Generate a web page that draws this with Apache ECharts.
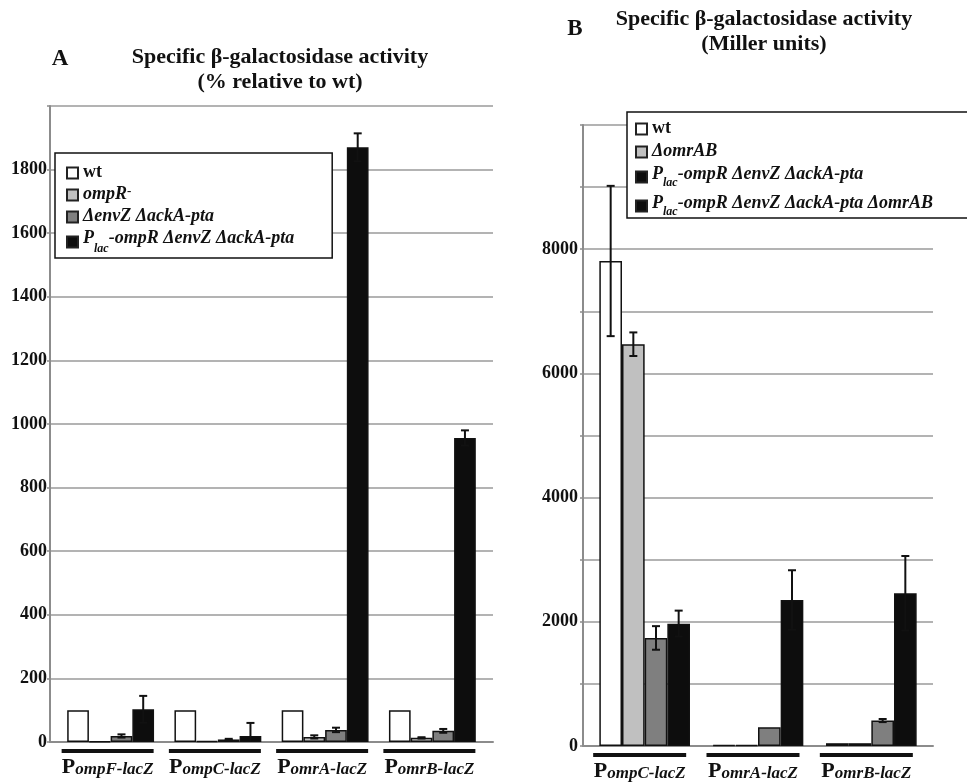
<!DOCTYPE html>
<html><head><meta charset="utf-8">
<script src="https://cdn.jsdelivr.net/npm/echarts@6/dist/echarts.min.js"></script>
<style>html,body{margin:0;padding:0;background:#fff}#c{width:967px;height:782px}</style>
</head><body><div id="c"></div>
<script>
// ---------- data ----------
const catsA = ['PompF-lacZ', 'PompC-lacZ', 'PomrA-lacZ', 'PomrB-lacZ'];
const namesA = ['wt', 'ompR-', 'ΔenvZ ΔackA-pta', 'Plac-ompR ΔenvZ ΔackA-pta'];
const wtA = [100, 100, 100, 100];
const wtAErr = [0, 0, 0, 0];
const ompRA = [2, 3, 16, 13];
const ompRAErr = [0, 0, 5, 2];
const envZA = [19, 8, 38, 35];
const envZAErr = [5, 2, 7, 6];
const placA = [103, 19, 1870, 956];
const placAErr = [42, 41, 44, 24];
const ticksA = [0, 200, 400, 600, 800, 1000, 1200, 1400, 1600, 1800];

const catsB = ['PompC-lacZ', 'PomrA-lacZ', 'PomrB-lacZ'];
const namesB = ['wt', 'ΔomrAB', 'Plac-ompR ΔenvZ ΔackA-pta', 'Plac-ompR ΔenvZ ΔackA-pta ΔomrAB'];
const wtB = [7810, 15, 45];
const wtBErr = [1210, 0, 0];
const omrABB = [6470, 15, 45];
const omrABBErr = [190, 0, 0];
const placEnvB = [1740, 300, 410];
const placEnvBErr = [190, 0, 25];
const placOmrB = [1970, 2350, 2460];
const placOmrBErr = [210, 480, 600];
const ticksB = [0, 2000, 4000, 6000, 8000];

// ---------- styling ----------
const FONT = '"Liberation Serif", "Times New Roman", serif';
const COLORS = ['#ffffff', '#c0c0c0', '#7f7f7f', '#0d0d0d'];
const GRID_COLOR = '#9a9a9a';
const AXIS_COLOR = '#8c8c8c';
const INK = '#111';

function legendRich(holder) {
  return {
    b: {fontFamily: FONT, fontWeight: 'bold', fontSize: 18, lineHeight: 20, verticalAlign: 'top', color: INK},
    i: {fontFamily: FONT, fontWeight: 'bold', fontStyle: 'italic', fontSize: 18, lineHeight: 20, verticalAlign: 'top', color: INK},
    sub: {fontFamily: FONT, fontWeight: 'bold', fontStyle: 'italic', fontSize: 12, lineHeight: 12, verticalAlign: 'bottom', color: INK},
    sup: {fontFamily: FONT, fontWeight: 'bold', fontSize: 13, lineHeight: 12, verticalAlign: 'top', color: INK},
    h: {fontSize: 1, lineHeight: holder, width: 0}
  };
}
const legendLabels = {
  'wt': '{b|wt}',
  'ompR-': '{i|ompR}{sup|-}',
  'ΔenvZ ΔackA-pta': '{i|ΔenvZ ΔackA-pta}',
  'ΔomrAB': '{i|ΔomrAB}',
  'Plac-ompR ΔenvZ ΔackA-pta': '{h| }{i|P}{sub|lac}{i|-ompR ΔenvZ ΔackA-pta}',
  'Plac-ompR ΔenvZ ΔackA-pta ΔomrAB': '{h| }{i|P}{sub|lac}{i|-ompR ΔenvZ ΔackA-pta ΔomrAB}'
};

function catLabel(width, shift) {
  return {
    show: true, interval: 0, margin: 7, padding: [0, shift, 0, 0],
    formatter: v => '{bar| }\n{P|' + v[0] + '}{it|' + v.slice(1) + '}',
    rich: {
      bar: {width: width, height: 4, lineHeight: 4, backgroundColor: INK, fontSize: 1},
      P: {fontFamily: FONT, fontWeight: 'bold', fontSize: 22, lineHeight: 25, verticalAlign: 'bottom', color: INK},
      it: {fontFamily: FONT, fontWeight: 'bold', fontStyle: 'italic', fontSize: 17, lineHeight: 21, verticalAlign: 'bottom', color: INK}
    }
  };
}

function errRender(nSeries, gapFrac) {
  return function (params, api) {
    const cat = api.value(0), si = api.value(1), lo = api.value(2), hi = api.value(3);
    const band = api.size([1, 0])[0];
    const groupW = band * (1 - gapFrac);
    const bw = groupW / nSeries;
    const center = api.coord([cat, 0])[0];
    const x = center - groupW / 2 + bw * (si + 0.5);
    const yl = api.coord([cat, lo])[1];
    const yh = api.coord([cat, hi])[1];
    const cw = 4;
    const st = {stroke: INK, lineWidth: 2};
    const kids = [
      {type: 'line', shape: {x1: x, y1: yl, x2: x, y2: yh}, style: st},
      {type: 'line', shape: {x1: x - cw, y1: yh, x2: x + cw, y2: yh}, style: st}
    ];
    if (lo > 0) kids.push({type: 'line', shape: {x1: x - cw, y1: yl, x2: x + cw, y2: yl}, style: st});
    return {type: 'group', children: kids};
  };
}

function errData(vals, errs) {
  const out = [];
  vals.forEach((v, si) => v.forEach((y, ci) => {
    if (errs[si][ci] > 0) out.push([ci, si, Math.max(0, y - errs[si][ci]), y + errs[si][ci]]);
  }));
  return out;
}

const valsA = [wtA, ompRA, envZA, placA];
const errsA = [wtAErr, ompRAErr, envZAErr, placAErr];
const valsB = [wtB, omrABB, placEnvB, placOmrB];
const errsB = [wtBErr, omrABBErr, placEnvBErr, placOmrBErr];
const GAP_A = 0.19, GAP_B = 0.20;

const series = [];
namesA.forEach((n, i) => series.push({
  name: n, type: 'bar', xAxisIndex: 1, yAxisIndex: 1, data: valsA[i],
  barGap: '0%', barCategoryGap: (GAP_A * 100) + '%',
  itemStyle: {color: COLORS[i], borderColor: INK, borderWidth: 1.5}
}));
series.push({type: 'custom', xAxisIndex: 1, yAxisIndex: 1, z: 5,
  renderItem: errRender(4, GAP_A), data: errData(valsA, errsA), encode: {x: 0, y: 3}});
namesB.forEach((n, i) => series.push({
  name: n, type: 'bar', xAxisIndex: 3, yAxisIndex: 3, data: valsB[i],
  barGap: '0%', barCategoryGap: (GAP_B * 100) + '%',
  itemStyle: {color: COLORS[i], borderColor: INK, borderWidth: 1.5}
}));
series.push({type: 'custom', xAxisIndex: 3, yAxisIndex: 3, z: 5,
  renderItem: errRender(4, GAP_B), data: errData(valsB, errsB), encode: {x: 0, y: 3}});

function valueAxis(grid, max, interval, labels, margin) {
  return {
    gridIndex: grid, type: 'value', min: 0, max: max, interval: interval,
    axisLine: {show: true, lineStyle: {color: AXIS_COLOR, width: 2}},
    axisTick: {show: true, length: 3, lineStyle: {color: AXIS_COLOR, width: 1.5}},
    splitLine: {show: true, lineStyle: {color: GRID_COLOR, width: 1.5}},
    axisLabel: {
      margin: margin, color: INK, fontFamily: FONT, fontWeight: 'bold', fontSize: 18,
      formatter: v => labels.indexOf(v) >= 0 ? String(v) : ''
    }
  };
}
function hiddenValue(grid, max) {
  return {gridIndex: grid, type: 'value', min: 0, max: max, show: false, splitLine: {show: false}};
}
function baseCat(grid, cats) {
  return {gridIndex: grid, type: 'category', data: cats,
    axisLine: {show: true, lineStyle: {color: AXIS_COLOR, width: 2}},
    axisTick: {show: false}, axisLabel: {show: false}};
}
function labelCat(grid, cats, w, shift) {
  return {gridIndex: grid, type: 'category', data: cats,
    axisLine: {show: false}, axisTick: {show: false}, axisLabel: catLabel(w, shift)};
}

const legendBase = {
  orient: 'vertical', icon: 'rect', itemWidth: 11, itemHeight: 11,
  backgroundColor: '#fff', borderColor: INK, borderWidth: 1.5,
  itemStyle: {borderColor: '#222', borderWidth: 2},
  formatter: n => legendLabels[n], selectedMode: false
};

const option = {
  backgroundColor: '#fff',
  animation: false,
  graphic: [
    {type: 'text', x: 60, y: 59, style: {text: 'A', font: 'bold 23px ' + FONT, fill: INK, align: 'center', verticalAlign: 'middle'}},
    {type: 'text', x: 280, y: 70, style: {text: 'Specific β-galactosidase activity\n(% relative to wt)', font: 'bold 22px ' + FONT, fill: INK, align: 'center', verticalAlign: 'middle', lineHeight: 25}},
    {type: 'text', x: 575, y: 29, style: {text: 'B', font: 'bold 23px ' + FONT, fill: INK, align: 'center', verticalAlign: 'middle'}},
    {type: 'text', x: 764, y: 32, style: {text: 'Specific β-galactosidase activity\n(Miller units)', font: 'bold 22px ' + FONT, fill: INK, align: 'center', verticalAlign: 'middle', lineHeight: 25}}
  ],
  legend: [
    Object.assign({}, legendBase, {data: namesA, left: 55, top: 153, padding: [10, 38, 3, 11], itemGap: 4, textStyle: {rich: legendRich(26)}}),
    Object.assign({}, legendBase, {data: namesB, left: 627, top: 112, padding: [7, 36, 0, 8], itemGap: 5, textStyle: {rich: legendRich(24)}})
  ],
  grid: [
    {left: 50, top: 106, width: 443, height: 636},
    {left: 57, top: 106, width: 429, height: 636},
    {left: 583, top: 125, width: 350, height: 621},
    {left: 588, top: 125, width: 340, height: 621}
  ],
  xAxis: [baseCat(0, catsA), labelCat(1, catsA, 92, 6), baseCat(2, catsB), labelCat(3, catsB, 93, 10)],
  yAxis: [valueAxis(0, 2000, 200, ticksA, 3), hiddenValue(1, 2000), valueAxis(2, 10000, 1000, ticksB, 5), hiddenValue(3, 10000)],
  series: series
};

const chart = echarts.init(document.getElementById('c'), null, {renderer: 'canvas'});
chart.setOption(option);
</script>
</body></html>
